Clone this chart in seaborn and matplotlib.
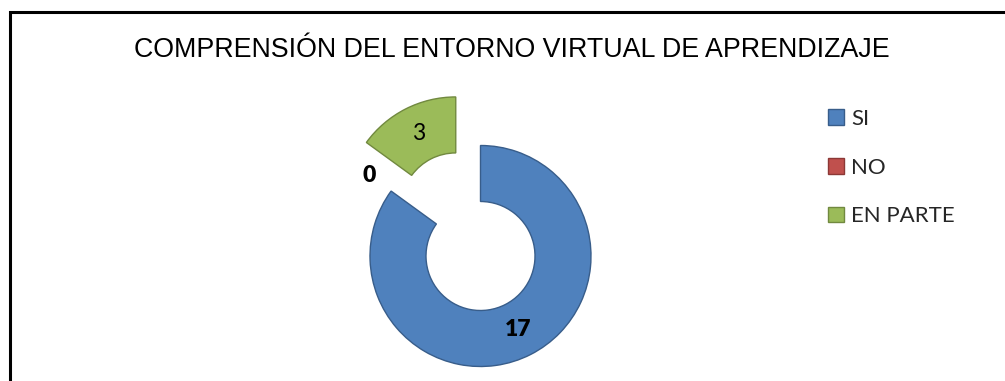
import matplotlib
matplotlib.use("Agg")
import matplotlib.pyplot as plt
from matplotlib.patches import Rectangle
import numpy as np
import seaborn as sns

# Survey answers
categories = ["SI", "NO", "EN PARTE"]
counts = [17, 0, 3]
title = "COMPRENSIÓN DEL ENTORNO VIRTUAL DE APRENDIZAJE"

sns.set_theme(style="white")
plt.rcParams["font.family"] = ["Lato", "DejaVu Sans"]

fills = sns.color_palette(["#4F81BD", "#C0504D", "#9BBB59"])
edges = ["#385D8A", "#8C3836", "#71893F"]
label_bold = [True, True, False]

W, H = 1005, 381
fig = plt.figure(figsize=(W / 100, H / 100), dpi=100)
fig.patch.set_facecolor("white")
ax = fig.add_axes([0, 0, 1, 1])

# doughnut geometry in pixel units
R = 110.5
ring = 56.0
center = (480.5, H - 256)
explode = [0.0, 54.5, 54.5]

wedges, _ = ax.pie(
    counts,
    colors=fills,
    startangle=90,
    counterclock=False,
    radius=R,
    center=center,
    explode=explode,
    wedgeprops=dict(width=ring, linewidth=1.0),
)
for w, ec, v in zip(wedges, edges, counts):
    w.set_edgecolor(ec)
    if v == 0:
        w.set_linewidth(0)

ax.set_xlim(0, W)
ax.set_ylim(0, H)
ax.set_aspect("equal")
ax.axis("off")

# value labels in the middle of each ring segment
for w, v, b in zip(wedges, counts, label_bold):
    ang = np.deg2rad((w.theta1 + w.theta2) / 2)
    cx, cy = w.center
    rm = w.r - ring / 2
    ax.text(cx + rm * np.cos(ang), cy + rm * np.sin(ang), str(v),
            ha="center", va="center", fontsize=16.5,
            fontweight="heavy" if b else "normal", color="black")

# chart title
fig.text(511.5 / W, 1 - 57 / H, title, ha="center", va="baseline",
         fontsize=19.25, family=["Liberation Sans", "DejaVu Sans"], color="black")

# legend
fs = 16
fs_px = fs * 100 / 72
leg = ax.legend(
    wedges, categories,
    loc="upper left",
    bbox_to_anchor=(828 / W, 1 - 109 / H),
    bbox_transform=fig.transFigure,
    frameon=False,
    fontsize=fs,
    borderpad=0,
    borderaxespad=0,
    handlelength=16 / fs_px,
    handleheight=16 / fs_px,
    handletextpad=7 / fs_px,
    labelspacing=1.29,
)
for h, ec in zip(leg.legend_handles, edges):
    h.set_edgecolor(ec)
    h.set_linewidth(1.0)

# outer frame of the chart area
fig.patches.append(Rectangle((9.5, -20), 1200, H - 12 + 20, transform=None,
                             fill=False, edgecolor="black", linewidth=2.2))

fig.savefig("out.png", dpi=100, facecolor="white")
